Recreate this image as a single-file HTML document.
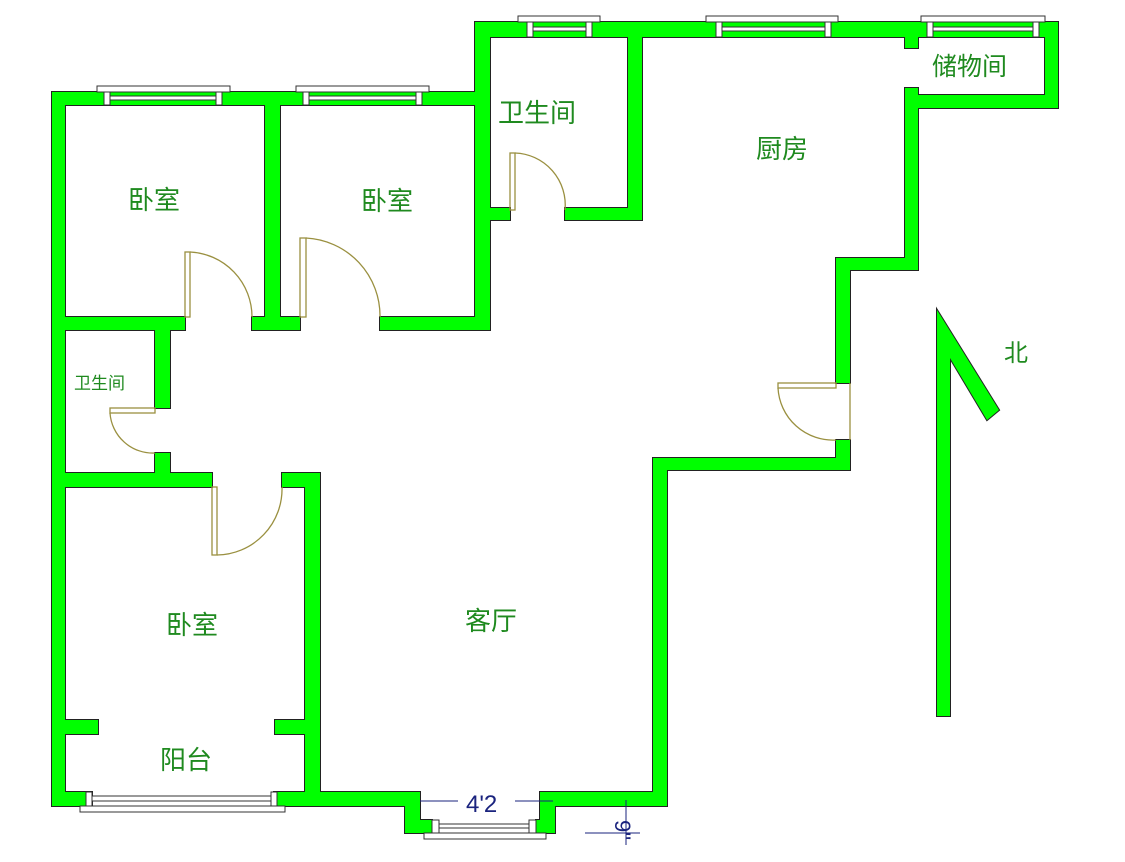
<!DOCTYPE html>
<html><head><meta charset="utf-8"><style>
html,body{margin:0;padding:0;background:#fff;width:1125px;height:862px;overflow:hidden}
svg text{font-family:"Liberation Sans","Noto Sans CJK SC",sans-serif;fill:#1f8a1f}
</style></head><body>
<svg width="1125" height="862" viewBox="0 0 1125 862" xmlns="http://www.w3.org/2000/svg">
<defs>
<g id="walls">
<rect x="52" y="92" width="13" height="714"/>
<rect x="52" y="92" width="436" height="13"/>
<rect x="265" y="92" width="15" height="238"/>
<rect x="52" y="317" width="133" height="13"/>
<rect x="252" y="317" width="48" height="13"/>
<rect x="380" y="317" width="110" height="13"/>
<rect x="475" y="22" width="15" height="308"/>
<rect x="475" y="22" width="583" height="15"/>
<rect x="628" y="22" width="14" height="198"/>
<rect x="490" y="208" width="20" height="12"/>
<rect x="565" y="208" width="77" height="12"/>
<rect x="905" y="22" width="13" height="26"/>
<rect x="905" y="88" width="13" height="180"/>
<rect x="1045" y="22" width="13" height="86"/>
<rect x="905" y="95" width="153" height="13"/>
<rect x="836" y="258" width="82" height="12"/>
<rect x="836" y="258" width="14" height="125"/>
<rect x="836" y="440" width="14" height="30"/>
<rect x="653" y="458" width="197" height="12"/>
<rect x="653" y="458" width="14" height="348"/>
<rect x="555" y="792" width="112" height="14"/>
<rect x="52" y="792" width="40" height="14"/>
<rect x="274" y="792" width="144" height="14"/>
<rect x="305" y="473" width="15" height="333"/>
<rect x="282" y="473" width="38" height="14"/>
<rect x="155" y="330" width="15" height="78"/>
<rect x="155" y="453" width="15" height="34"/>
<rect x="52" y="473" width="160" height="14"/>
<rect x="65" y="720" width="33" height="14"/>
<rect x="275" y="720" width="30" height="14"/>
<rect x="405" y="792" width="15" height="41"/>
<rect x="405" y="820" width="27" height="13"/>
<rect x="540" y="792" width="15" height="41"/>
<rect x="536" y="820" width="19" height="13"/>
<polygon points="937,716 937,310 999,410 987,420 950,358 950,716"/>
</g>
</defs>
<use href="#walls" fill="#222" stroke="#222" stroke-width="2"/>
<use href="#walls" fill="#00ff00"/>
<!-- windows -->
<g fill="#fff" stroke="#333" stroke-width="1">
<rect x="97" y="86" width="133" height="6"/>
<rect x="104" y="92" width="6" height="13"/><rect x="216" y="92" width="6" height="13"/>
<rect x="110" y="96" width="106" height="4"/>
<rect x="296" y="86" width="133" height="6"/>
<rect x="303" y="92" width="6" height="13"/><rect x="416" y="92" width="6" height="13"/>
<rect x="309" y="96" width="107" height="4"/>
<rect x="518" y="16" width="82" height="6"/>
<rect x="527" y="22" width="6" height="15"/><rect x="586" y="22" width="6" height="15"/>
<rect x="533" y="27" width="53" height="4"/>
<rect x="706" y="16" width="132" height="6"/>
<rect x="716" y="22" width="6" height="15"/><rect x="825" y="22" width="6" height="15"/>
<rect x="722" y="27" width="103" height="4"/>
<rect x="921" y="16" width="124" height="6"/>
<rect x="927" y="22" width="6" height="15"/><rect x="1033" y="22" width="6" height="15"/>
<rect x="933" y="27" width="100" height="4"/>
<rect x="80" y="806" width="205" height="6"/>
<rect x="86" y="792" width="6" height="14"/><rect x="271" y="792" width="6" height="14"/>
<rect x="92" y="796" width="179" height="5"/>
<rect x="424" y="833" width="122" height="6"/>
<rect x="432" y="820" width="7" height="13"/><rect x="529" y="820" width="7" height="13"/>
<rect x="439" y="824" width="90" height="4"/>
</g>
<!-- doors -->
<g fill="none" stroke="#9a9040" stroke-width="1.3">
<rect x="185" y="252" width="5" height="65"/><path d="M190 252 A65 65 0 0 1 252 317"/>
<rect x="300" y="238" width="6" height="79"/><path d="M306 238 A78 78 0 0 1 380 317"/>
<rect x="510" y="153" width="5" height="57"/><path d="M515 153 A52 52 0 0 1 565 210"/>
<rect x="110" y="408" width="45" height="5"/><path d="M110 413 A43 43 0 0 0 155 453"/>
<rect x="212" y="487" width="5" height="68"/><path d="M217 555 A66 66 0 0 0 282 487"/>
<rect x="778" y="383" width="58" height="5"/><path d="M778 388 A55 55 0 0 0 836 440"/>
<line x1="850" y1="383" x2="850" y2="440"/>
</g>
<!-- dimension -->
<g stroke="#1a237e" stroke-width="1">
<line x1="420" y1="801" x2="458" y2="801"/><line x1="515" y1="801" x2="553" y2="801"/>
<line x1="585" y1="833" x2="640" y2="833"/><line x1="626" y1="800" x2="626" y2="845"/>
</g>
<text x="466" y="812" font-size="24" style="fill:#1a237e">4'2</text>
<text x="0" y="0" font-size="22" style="fill:#1a237e" transform="translate(615,820) rotate(90)">9"</text>
<!-- labels -->
<g font-size="26">
<text x="128" y="209">卧室</text>
<text x="361" y="210">卧室</text>
<text x="498" y="122">卫生间</text>
<text x="756" y="158">厨房</text>
<text x="932" y="75" font-size="25">储物间</text>
<text x="1004" y="361" font-size="24">北</text>
<text x="74" y="389" font-size="17">卫生间</text>
<text x="166" y="634">卧室</text>
<text x="465" y="630">客厅</text>
<text x="160" y="769">阳台</text>
</g>
</svg>
</body></html>
